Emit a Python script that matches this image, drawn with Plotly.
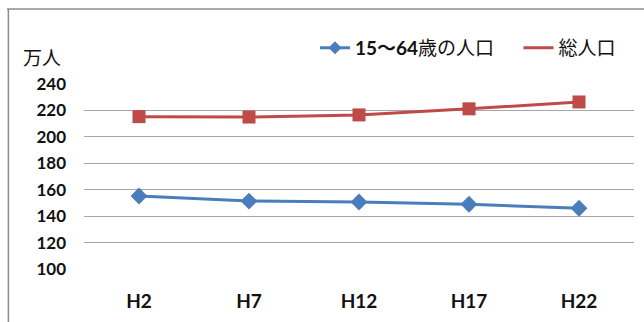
import plotly.graph_objects as go

# Survey years (Heisei era)
years = ["H2", "H7", "H12", "H17", "H22"]
# Population in units of 10,000 people
working_age = [155.2, 151.4, 150.7, 149.0, 146.0]
total_pop = [215.3, 215.0, 216.6, 221.2, 226.4]

blue = "#4A7EBB"
red = "#BE4B48"
tick_font = dict(family="Lato, 'Noto Sans CJK JP', sans-serif", size=17, color="#111111")
legend_font = dict(family="Lato, 'Noto Sans CJK JP', sans-serif", size=19, color="#111111")

fig = go.Figure()

fig.add_trace(go.Scatter(
    x=years, y=total_pop, mode="lines+markers", showlegend=False,
    line=dict(color=red, width=3),
    marker=dict(symbol="square", size=13, color=red),
))
fig.add_trace(go.Scatter(
    x=years, y=working_age, mode="lines+markers", showlegend=False,
    line=dict(color=blue, width=3),
    marker=dict(symbol="diamond", size=13, color=blue),
))

# Legend entries, each in its own legend box
fig.add_trace(go.Scatter(
    x=[None], y=[None], mode="lines+markers", name="<b>15～64</b>歳の人口",
    line=dict(color=blue, width=3),
    marker=dict(symbol="diamond", size=10, color=blue),
    legend="legend",
))
fig.add_trace(go.Scatter(
    x=[None], y=[None], mode="lines", name="総人口",
    line=dict(color=red, width=3),
    legend="legend2",
))

border = "#8C8C8C"
fig.add_shape(type="line", xref="paper", yref="paper",
              x0=-0.14, x1=1.03, y0=1.405, y1=1.405,
              line=dict(color=border, width=1.5))
fig.add_shape(type="line", xref="paper", yref="paper",
              x0=-0.1375, x1=-0.1375, y0=-0.3, y1=1.405,
              line=dict(color=border, width=1.5))

fig.add_annotation(text="万人", xref="paper", yref="paper",
                   x=-0.076, y=1.148, xanchor="center", yanchor="middle",
                   showarrow=False,
                   font=dict(family="'Noto Sans CJK JP', sans-serif", size=19, color="#111111"))

fig.update_layout(
    width=644, height=322,
    margin=dict(l=84, r=10, t=84, b=53),
    paper_bgcolor="white", plot_bgcolor="white",
    font=dict(family="Lato, 'Noto Sans CJK JP', sans-serif", color="#111111"),
    legend=dict(orientation="h", x=0.42, y=1.195, xanchor="left", yanchor="middle",
                font=legend_font, itemwidth=30, bgcolor="rgba(0,0,0,0)"),
    legend2=dict(orientation="h", x=0.79, y=1.195, xanchor="left", yanchor="middle",
                 font=legend_font, itemwidth=30, bgcolor="rgba(0,0,0,0)"),
    xaxis=dict(type="category", range=[-0.5, 4.5], showgrid=False, showline=False,
               zeroline=False, ticks="", ticklabelstandoff=19,
               tickfont=dict(tick_font, family="Lato, sans-serif", size=19),
               tickprefix="<b>", ticksuffix="</b>"),
    yaxis=dict(range=[100, 240], dtick=20, tick0=100, showgrid=True,
               gridcolor="#A6A6A6", gridwidth=1.3, zeroline=False, showline=False,
               ticks="", ticklabelstandoff=17,
               tickfont=tick_font, tickprefix="<b>", ticksuffix="</b>"),
)

fig.write_html("out.html")
